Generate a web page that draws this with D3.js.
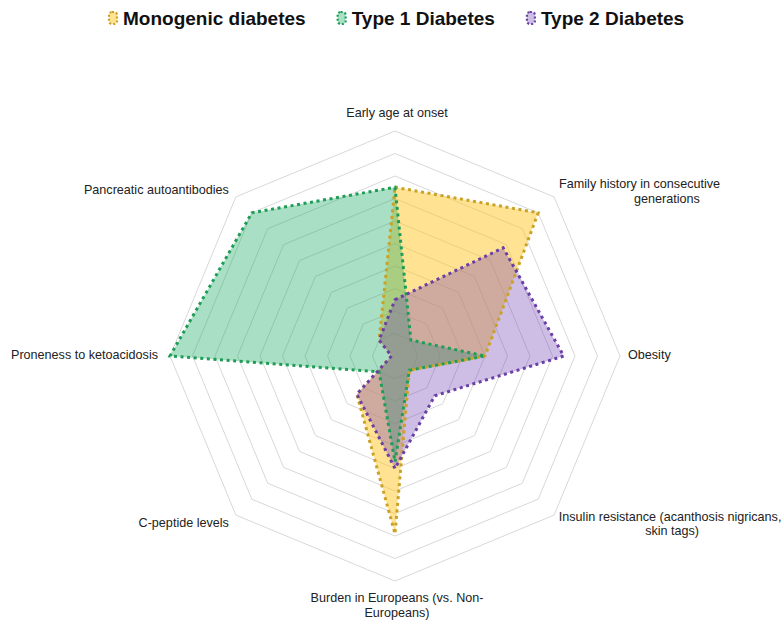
<!DOCTYPE html>
<html>
<head>
<meta charset="utf-8">
<script src="https://cdn.jsdelivr.net/npm/d3@7/dist/d3.min.js"></script>
<style>
  html, body { margin: 0; padding: 0; background: #fff; }
  svg { display: block; font-family: "Liberation Sans", Arial, sans-serif; }
</style>
</head>
<body>
<svg id="chart" width="784" height="621"></svg>
<script>
// ---- data ----
const categories = [
  ["Early age at onset"],
  ["Family history in consecutive", "generations"],
  ["Obesity"],
  ["Insulin resistance (acanthosis nigricans,", "skin tags)"],
  ["Burden in Europeans (vs. Non-", "Europeans)"],
  ["C-peptide levels"],
  ["Proneness to ketoacidosis"],
  ["Pancreatic autoantibodies"]
];
const seriesNames = ["Monogenic diabetes", "Type 1 Diabetes", "Type 2 Diabetes"];
const monogenic = [7.5, 9, 4, 0.9, 7.9, 2.4, 0.15, 1];
const type1     = [7.5, 1, 4, 0.9, 4.7, 1, 10, 9];
const type2     = [2.5, 6.8, 7.5, 2.5, 5, 2.4, 0.15, 1];
const gridLevels = [1, 2, 3, 4, 5, 6, 7, 8, 9, 10];

// ---- styles ----
const strokeColors = ["#c9a227", "#1f9d57", "#6a3fa6"];
const fillColors = ["rgba(255,200,40,0.5)", "rgba(30,170,100,0.38)", "rgba(110,65,180,0.34)"];

const svg = d3.select("#chart");
const cx = 395, cy = 356, R = 225;
const r = d3.scaleLinear().domain([0, 10]).range([0, R]);
const n = categories.length;
const angle = d3.scaleLinear().domain([0, n]).range([0, 2 * Math.PI]);

function pt(i, v) {
  const a = angle(i);
  return [cx + r(v) * Math.sin(a), cy - r(v) * Math.cos(a)];
}

// grid
const g = svg.append("g");
g.selectAll("polygon.grid").data(gridLevels).join("polygon")
  .attr("class", "grid")
  .attr("points", lv => d3.range(n).map(i => pt(i, lv).join(",")).join(" "))
  .attr("fill", "none")
  .attr("stroke", "#d8d8d8")
  .attr("stroke-width", 1);

// series
const allSeries = [monogenic, type1, type2];
const line = d3.line().curve(d3.curveLinearClosed);
allSeries.forEach((vals, k) => {
  svg.append("path")
    .attr("d", line(vals.map((v, i) => pt(i, v))))
    .attr("fill", fillColors[k])
    .attr("stroke", "none");
});
allSeries.forEach((vals, k) => {
  svg.append("path")
    .attr("d", line(vals.map((v, i) => pt(i, v))))
    .attr("fill", "none")
    .attr("stroke", strokeColors[k])
    .attr("stroke-width", 3)
    .attr("stroke-dasharray", "3,3.6");
});

// axis labels (offsets from the outer grid vertex)
const labelLayout = [
  {anchor: "middle", lines: [[2, -14]]},
  {anchor: "start", lines: [[5, -9], [80, 6]]},
  {anchor: "start", lines: [[8, 3]]},
  {anchor: "middle", lines: [[116, 6], [118, 20]]},
  {anchor: "middle", lines: [[2, 21], [2, 36]]},
  {anchor: "end", lines: [[-7, 12]]},
  {anchor: "end", lines: [[-12, 3]]},
  {anchor: "end", lines: [[-7, -3]]}
];
categories.forEach((lines, i) => {
  const [bx, by] = pt(i, 10);
  lines.forEach((txt, j) => {
    const off = labelLayout[i].lines[j];
    svg.append("text")
      .attr("x", bx + off[0])
      .attr("y", by + off[1])
      .attr("text-anchor", labelLayout[i].anchor)
      .attr("font-size", 12.6)
      .attr("fill", "#222")
      .text(txt);
  });
});

// legend
let lx = 108;
seriesNames.forEach((name, k) => {
  svg.append("rect")
    .attr("x", lx + 1).attr("y", 12)
    .attr("width", 8).attr("height", 12)
    .attr("rx", 3)
    .attr("fill", fillColors[k])
    .attr("stroke", strokeColors[k])
    .attr("stroke-width", 2.2)
    .attr("stroke-dasharray", "2,2");
  const t = svg.append("text")
    .attr("x", lx + 15).attr("y", 25)
    .attr("font-size", 19)
    .attr("font-weight", "bold")
    .attr("fill", "#111")
    .text(name);
  lx = lx + 15 + t.node().getComputedTextLength() + 31;
});
</script>
</body>
</html>
